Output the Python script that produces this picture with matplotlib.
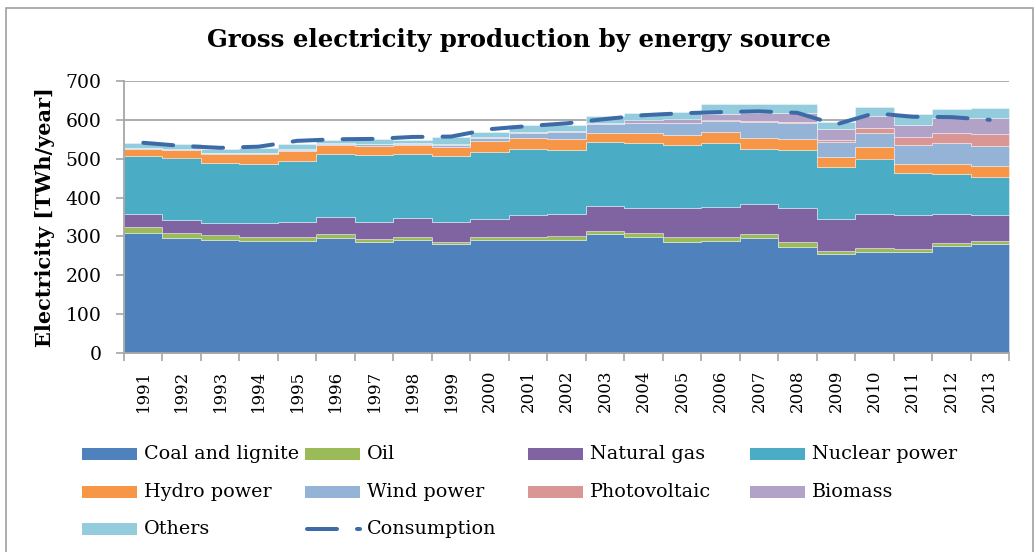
import numpy as np
import matplotlib
matplotlib.use("Agg")
import matplotlib.pyplot as plt
from matplotlib.patches import Rectangle
from matplotlib.lines import Line2D

years = [str(y) for y in range(1991, 2014)]

coal = [308, 295, 292, 289, 289, 297, 285, 292, 280, 292, 292, 291, 305, 298, 286, 287, 297, 274, 254, 261, 261, 276, 281]
oil = [15, 13, 12, 10, 10, 8, 8, 7, 5, 6, 7, 10, 9, 10, 13, 12, 10, 11, 8, 10, 7, 8, 7]
natural_gas = [36, 33, 31, 36, 39, 45, 45, 49, 51, 48, 55, 56, 64, 65, 73, 76, 77, 88, 82, 88, 86, 75, 68]
nuclear = [147, 161, 155, 152, 155, 162, 172, 163, 170, 170, 172, 165, 164, 167, 163, 166, 141, 149, 135, 141, 110, 101, 98]
hydro = [20, 21, 23, 26, 28, 24, 24, 24, 25, 29, 28, 28, 23, 26, 27, 29, 28, 28, 25, 29, 22, 27, 26]
wind = [0.5, 0.5, 0.5, 1, 1, 2, 3, 4, 5, 9, 13, 19, 24, 25, 29, 28, 41, 41, 38, 38, 49, 53, 52]
photovoltaic = [0, 0, 0, 0, 0, 0, 0, 0, 0, 0, 0, 0.5, 0.5, 0.5, 1, 2, 4, 4, 6, 11, 20, 25, 32]
biomass = [1, 1.5, 1.5, 1.5, 2, 2, 2, 2, 3, 2, 2, 2.5, 2.5, 8.5, 9, 16, 19, 22, 28, 31, 33, 41, 42]
others = [12.5, 14, 11, 12.5, 14, 8, 13, 8, 17, 12, 18, 15, 17, 18, 20, 24, 24, 24, 18, 24, 26, 23, 25]
consumption = [541, 533, 528, 531, 546, 550, 551, 556, 557, 576, 584, 591, 602, 612, 617, 620, 622, 618, 588, 617, 608, 607, 600]

series = [
    ("Coal and lignite", coal, "#4F81BD"),
    ("Oil", oil, "#9BBB59"),
    ("Natural gas", natural_gas, "#8064A2"),
    ("Nuclear power", nuclear, "#4BACC6"),
    ("Hydro power", hydro, "#F79646"),
    ("Wind power", wind, "#95B3D7"),
    ("Photovoltaic", photovoltaic, "#D99694"),
    ("Biomass", biomass, "#B3A2C7"),
    ("Others", others, "#93CDDD"),
]
cons_color = "#3D6BA7"
grid_gray = "#A6A6A6"

plt.rcParams["font.family"] = ["DejaVu Serif"]

W, H = 1034, 552
fig = plt.figure(figsize=(W / 100, H / 100), dpi=100)

def fx(px):
    return px / W

def fy(py):
    return 1 - py / H

ax = fig.add_axes([fx(124), fy(353), fx(1009) - fx(124), fy(81) - fy(353)])

n = len(years)
edges = np.arange(n + 1)
base = np.zeros(n)
for name, vals, col in series:
    top = base + np.asarray(vals, dtype=float)
    ax.fill_between(edges, np.append(base, base[-1]), np.append(top, top[-1]),
                    step="post", facecolor=col, edgecolor=(1, 1, 1, 0.45),
                    linewidth=0.6, zorder=2)
    base = top

centers = np.arange(n) + 0.5
ax.plot(centers, consumption, color=cons_color, linewidth=4 * 0.72,
        dashes=(7.5, 5.0), dash_capstyle="round", zorder=3)

ax.set_xlim(0, n)
ax.set_ylim(0, 700)
ax.set_yticks(np.arange(0, 701, 100))
ax.yaxis.grid(True, color=grid_gray, linewidth=1.3, zorder=0)
ax.set_axisbelow(True)

ax.set_xticks(edges)
ax.set_xticklabels([])
ax.set_xticks(centers, minor=True)
ax.set_xticklabels(years, minor=True, rotation=90, fontsize=12)
ax.tick_params(axis="x", which="major", direction="out", length=6, width=1.2, color=grid_gray)
ax.tick_params(axis="x", which="minor", length=0, pad=12)
ax.tick_params(axis="y", direction="out", length=6, width=1.2, color=grid_gray, labelsize=13.5, pad=10)

for side in ("top", "right"):
    ax.spines[side].set_visible(False)
for side in ("left", "bottom"):
    ax.spines[side].set_color(grid_gray)
    ax.spines[side].set_linewidth(1.3)

ax.set_ylabel("Electricity [TWh/year]", fontsize=15, fontweight="bold", labelpad=8)

fig.text(fx(519), fy(40), "Gross electricity production by energy source",
         ha="center", va="center", fontsize=17.6, fontweight="bold")

# legend laid out on a fixed grid of four columns
col_x = [82, 305, 528, 750]
row_y = [454, 492, 529]
entries = [(name, col) for name, _, col in series] + [("Consumption", None)]
for i, (name, col) in enumerate(entries):
    r, c = divmod(i, 4)
    x0, yc = col_x[c], row_y[r]
    if col is not None:
        fig.add_artist(Rectangle((fx(x0), fy(yc + 6)), fx(55), 12 / H,
                                 facecolor=col, edgecolor="none",
                                 transform=fig.transFigure))
    else:
        fig.add_artist(Line2D([fx(x0 + 2), fx(x0 + 55)], [fy(yc), fy(yc)],
                              color=cons_color, linewidth=4 * 0.72,
                              dashes=(7.5, 5.0), dash_capstyle="round",
                              transform=fig.transFigure))
    fig.text(fx(x0 + 62), fy(yc), name, ha="left", va="center", fontsize=13.8)

# chart frame
fig.add_artist(Rectangle((fx(5.5), fy(560)), fx(1032.5 - 5.5), (560 - 8) / H,
                         facecolor="none", edgecolor="#A0A0A0", linewidth=1.2,
                         transform=fig.transFigure, clip_on=False))

fig.savefig("out.png", dpi=100)
